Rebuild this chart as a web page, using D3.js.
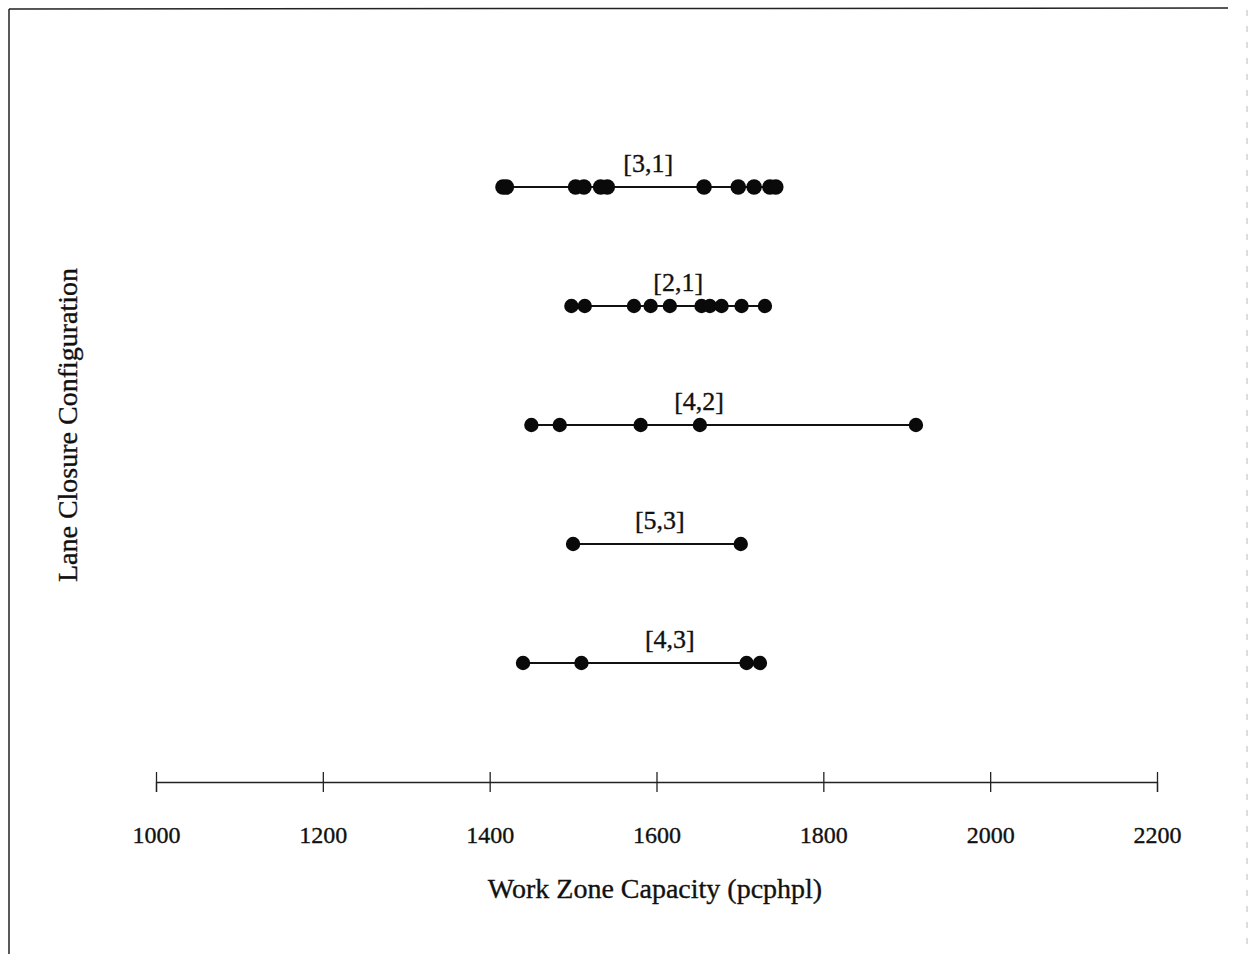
<!DOCTYPE html>
<html>
<head>
<meta charset="utf-8">
<script src="https://cdn.jsdelivr.net/npm/d3@7"></script>
<style>
  body { margin: 0; background: #fff; }
  text { font-family: "Liberation Serif", "Times New Roman", serif; fill: #111; stroke: #111; stroke-width: 0.35px; }
</style>
</head>
<body>
<script>
// lane closure configurations, top to bottom
var configs = ['[3,1]', '[2,1]', '[4,2]', '[5,3]', '[4,3]'];
// observed work zone capacities (pcphpl) for each configuration
var cap_31 = [1416, 1420, 1503, 1513, 1533, 1541, 1657, 1698, 1717, 1736, 1743];
var cap_21 = [1498, 1514, 1573, 1593, 1616, 1654, 1664, 1678, 1702, 1730];
var cap_42 = [1450, 1484, 1581, 1652, 1911];
var cap_53 = [1500, 1701];
var cap_43 = [1440, 1510, 1708, 1724];
// where the configuration label sits along the capacity axis
var label_at = [1590, 1626, 1651, 1604, 1616];
var x_ticks = [1000, 1200, 1400, 1600, 1800, 2000, 2200];

var series = [cap_31, cap_21, cap_42, cap_53, cap_43];

var width = 1249, height = 954;
var svg = d3.select('body').append('svg').attr('width', width).attr('height', height);

// scanned page frame (left and top edges, faint right edge)
svg.append('line').attr('x1', 9).attr('y1', 9).attr('x2', 9).attr('y2', height)
  .attr('stroke', '#222').attr('stroke-width', 1.5);
svg.append('line').attr('x1', 9).attr('y1', 9).attr('x2', 1228).attr('y2', 8)
  .attr('stroke', '#222').attr('stroke-width', 1.5);
svg.append('line').attr('x1', 1247).attr('y1', 10).attr('x2', 1247).attr('y2', height)
  .attr('stroke', '#bbb').attr('stroke-width', 1).attr('stroke-dasharray', '6,10');

var x_scale = d3.scaleLinear().domain([1000, 2200]).range([156, 1157]);
var y_scale = d3.scalePoint().domain(configs).range([68, 782]).padding(1);

var axis_y = 782;

// x axis with ticks crossing the line
var ax = svg.append('g').attr('transform', 'translate(0,' + axis_y + ')')
  .call(d3.axisBottom(x_scale).tickValues(x_ticks).tickFormat(d3.format('d'))
    .tickSizeOuter(0).tickSize(10).tickPadding(0));
ax.select('.domain').attr('stroke', '#222').attr('stroke-width', 1.3);
ax.selectAll('.tick line').attr('y1', -10).attr('y2', 10).attr('stroke', '#222').attr('stroke-width', 1.3);
ax.selectAll('.tick text').attr('y', 61).attr('dy', 0)
  .style('font-size', '24px').style('font-family', '"Liberation Serif", serif').attr('fill', '#111');

// axis titles
svg.append('text').attr('x', 655).attr('y', 898).attr('text-anchor', 'middle')
  .style('font-size', '28px').text('Work Zone Capacity (pcphpl)');
svg.append('text').attr('transform', 'translate(77,425) rotate(-90)').attr('text-anchor', 'middle')
  .style('font-size', '28px').text('Lane Closure Configuration');

// one row per configuration: range line, dots, label
var rows = svg.selectAll('g.row').data(configs).enter().append('g').attr('class', 'row');

rows.append('line')
  .attr('x1', (d, i) => x_scale(d3.min(series[i])))
  .attr('x2', (d, i) => x_scale(d3.max(series[i])))
  .attr('y1', d => y_scale(d)).attr('y2', d => y_scale(d))
  .attr('stroke', '#111').attr('stroke-width', 2);

rows.each(function(d, i) {
  d3.select(this).selectAll('circle').data(series[i]).enter().append('circle')
    .attr('cx', v => x_scale(v)).attr('cy', y_scale(d))
    .attr('r', i == 0 ? 7.8 : 7.2).attr('fill', '#0a0a0a');
});

rows.append('text')
  .attr('x', (d, i) => x_scale(label_at[i]))
  .attr('y', d => y_scale(d) - 15)
  .attr('text-anchor', 'middle')
  .style('font-size', '26px')
  .text(d => d);
</script>
</body>
</html>
